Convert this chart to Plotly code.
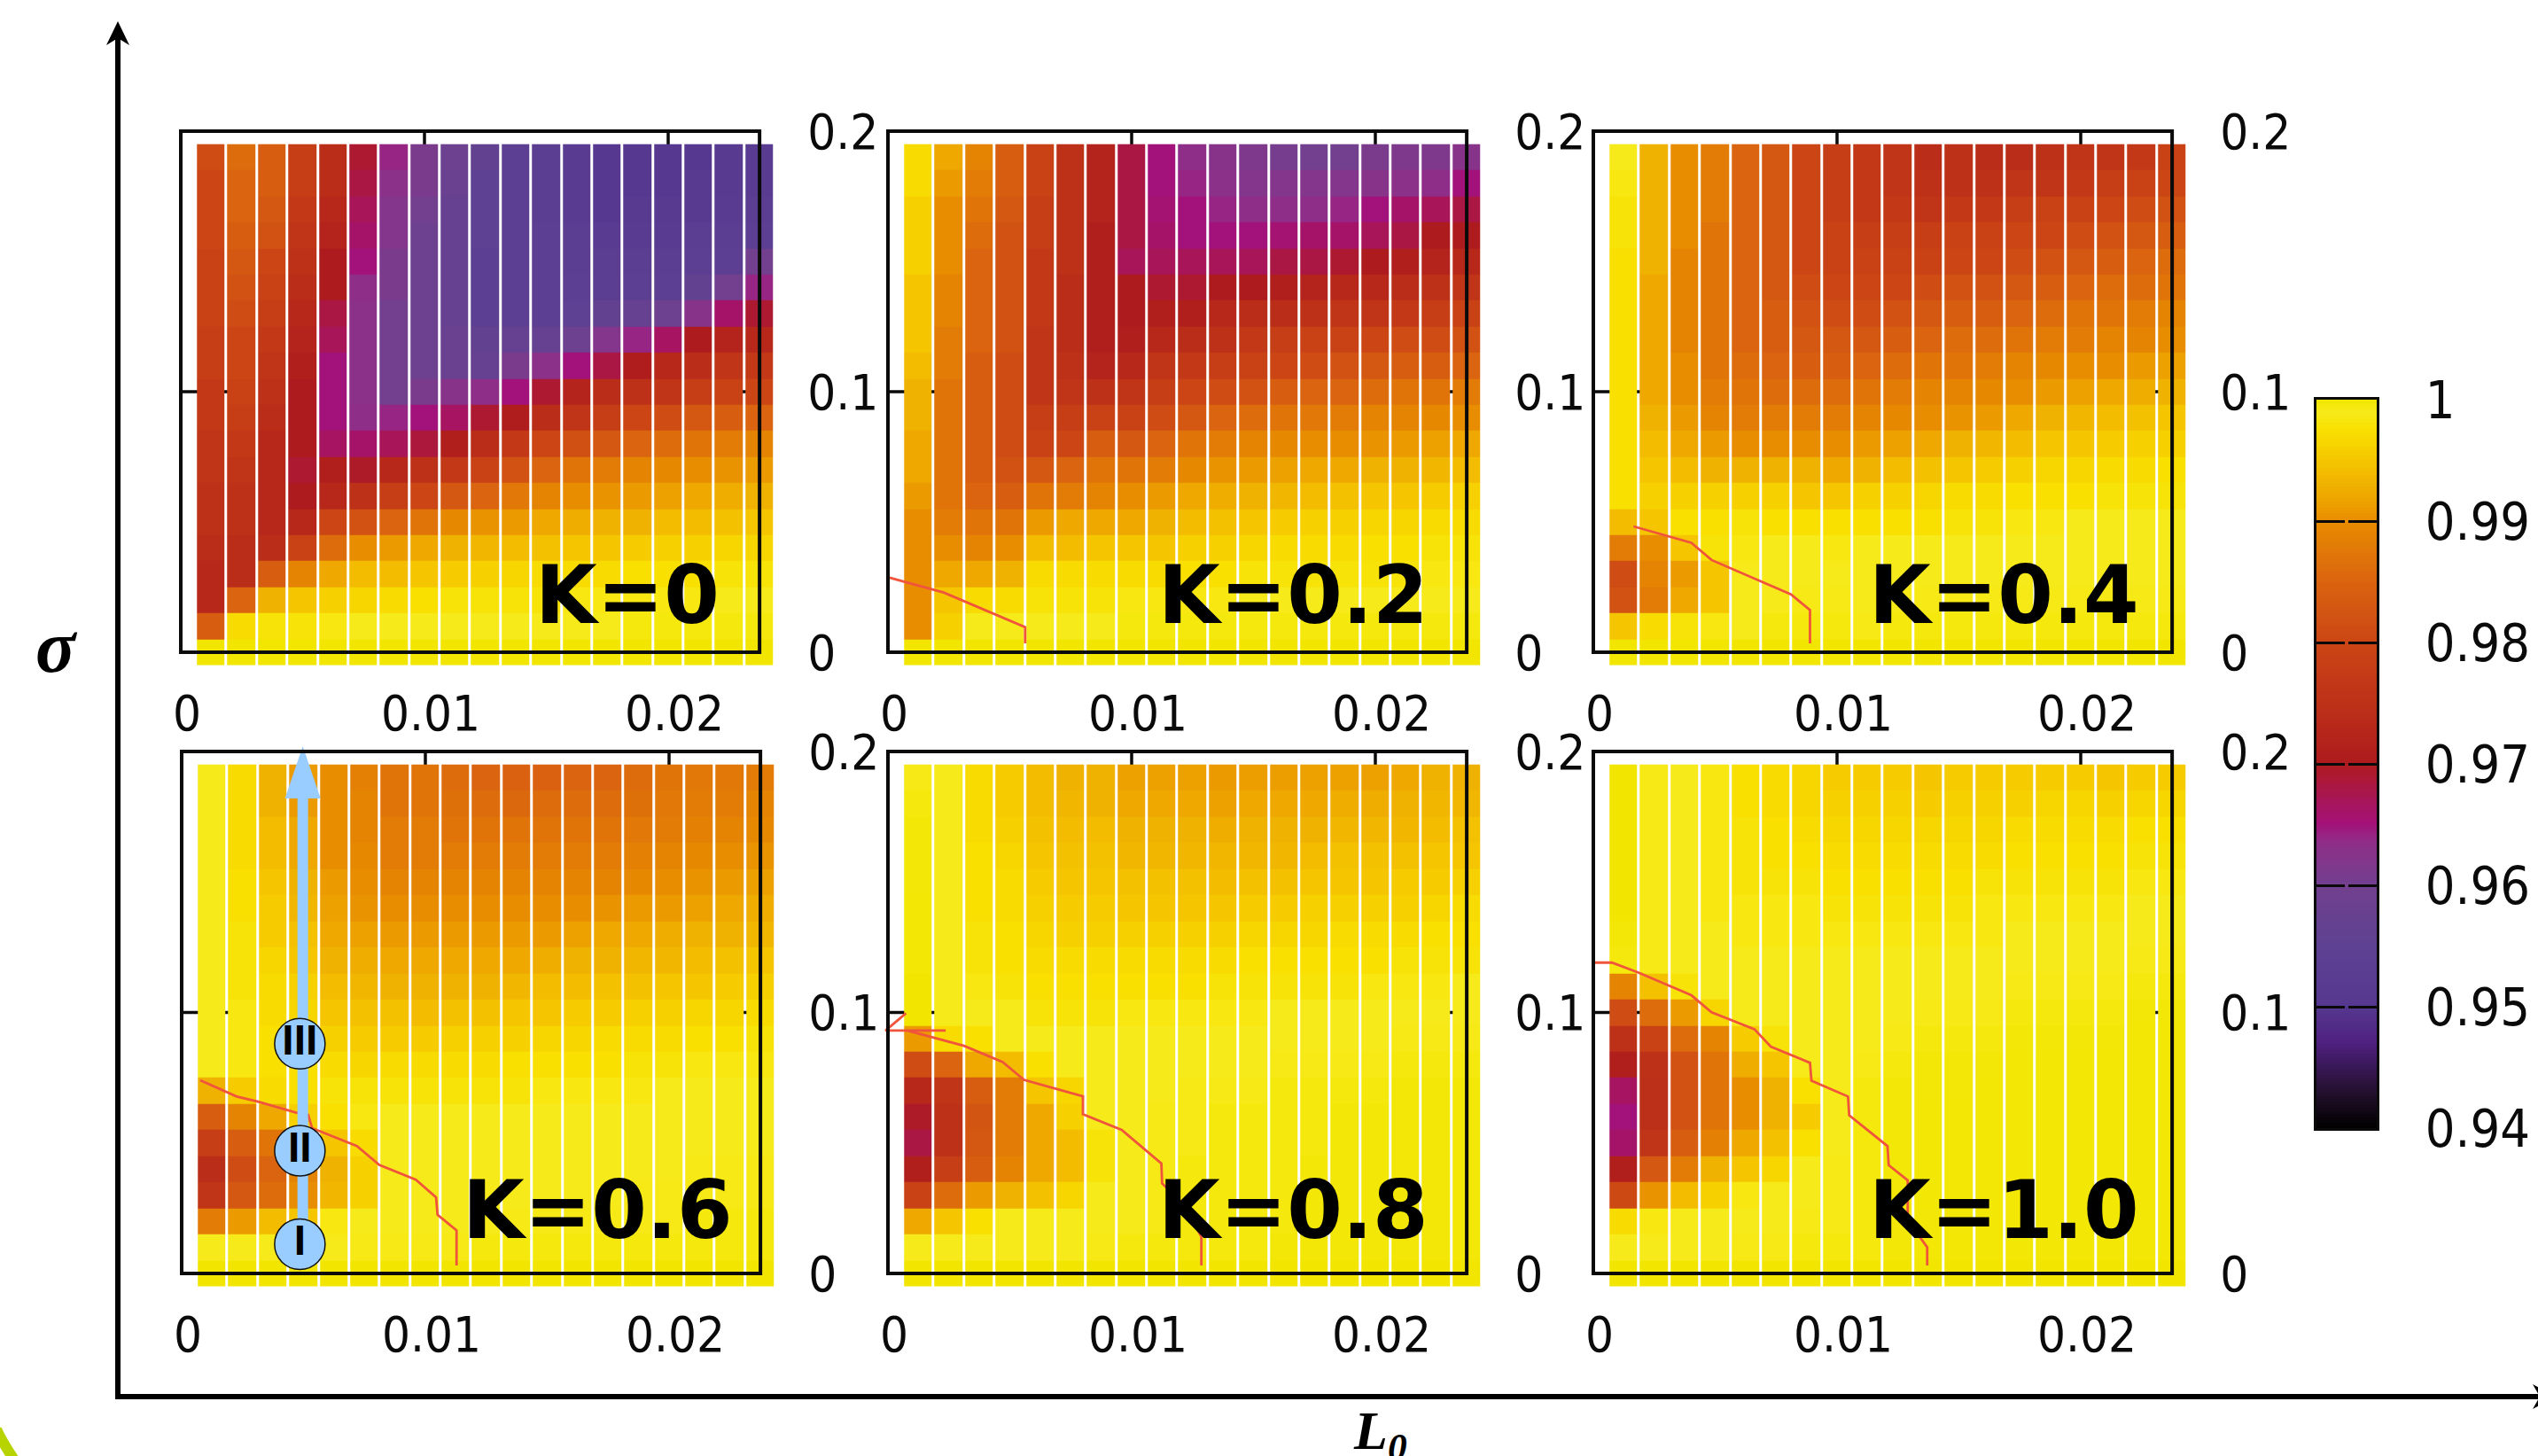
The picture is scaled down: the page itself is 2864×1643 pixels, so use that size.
import numpy as np
import plotly.graph_objects as go

W, H = 2864, 1643

# Column-by-column, top row (sigma = 0.19) first; values are (1 - Q) * 1000
K00 = [
 [19,20,20,20,21,21,21,22,22,23,23,24,24,25,25,26,27,27,16,0],
 [14,15,15,16,17,18,19,20,20,21,22,23,24,25,25,26,26,15,3,0],
 [16,16,17,18,20,21,22,23,24,25,26,27,27,27,27,26,16,7,2,0],
 [22,22,23,24,25,26,27,28,29,30,30,30,31,30,27,21,11,5,2,0],
 [26,26,27,28,30,30,32,33,35,35,35,33.5,29,27,20,14,8,4,1.5,0],
 [31,32,33,34,35,36.5,37,37,37,37,36.5,34,30.5,25,18,10,6,3.5,1,0],
 [36,37,38,38,39,39,40,40,40,40,36,33,27,22,15,9,6,3,1,0],
 [39,39,40,41,41,41,41,41,41,39,35,31.5,25,20,13,8,5,2.5,1,0],
 [41,42,43,43,43,43,43,42,42,37.5,33.5,29,23,17,10.5,7,4.5,2,1,0],
 [44,45,45,45,46,46,46,44,43,36.5,31,26,21,15,9.5,6.5,4,2,1,0],
 [46,46,46,46,46,46,46,43,39,35,29.5,23,18,12.5,9,6,3.5,2,1,0],
 [47,47,47,46,46,46,46,43,37,31,26,20,15,11,8,5.5,3,2,1,0],
 [48,48,48,47,47,46,45,41,35,28,24,18.5,13,10,7.5,5,3,1.5,1,0],
 [50,50,50,48,47,47,44,38,32,26,22,17,12,9.5,7,5,3,1.5,1,0],
 [50,50,49,48,47,46,43,36,29.5,25,20,15,11,9,7,4.5,2.5,1.5,.5,0],
 [50,50,49,48,47,46,41,33.5,27,24,19,14,10.5,8.5,6,4,2.5,1.5,.5,0],
 [50,49,49,47,46,44,37.5,30,26,22,17,13,10,8,6,4,2.5,1.5,.5,0],
 [49,49,48,47,46,40,34,28,24,21,16,12,9.5,7.5,5.5,3.5,2,1,.5,0],
 [48,48,47,46,40,36,31,27,23,20,15,11,9,7,5,3.5,2,1,.5,0],
]
K02 = [
 [3,3,4,4,4,5,5,5,6,7,7,8,8,9,10,10,10,10,10,0],
 [8,9,10,10,10,11,11,12,12,13,13,13,13,13,12,10,8,5,4,0],
 [11,12,13,14,15,15,15,15,16,16,16,16,16,15,13,11,8,3,1,0],
 [16,16,17,18,18,18,18,18,19,19,19,19,18,16,13,10,7,3,1,0],
 [21,21,22,22,23,23,23,24,24,24,22,21,17,13,9,6,3,2,1,0],
 [25,25,25,25,25,26,26,26,25,24,22,20,15,12,8,6,3,2,1,0],
 [28,28,28,29,29,29,29,29,28,25,21,16,13,11,8,5,3,2,1,0],
 [32,32,32,32,33,30,30,29,27,24,21,17,13,10,8,5,3,1.5,.5,0],
 [35,35,34.5,34,33,31,29,27,24,22,19,15,12,9,7,5,3,1.5,.5,0],
 [36.5,36,35,35,33,31,29,26,23,20,17,13,10.5,8,6,4,2.5,1.5,.5,0],
 [37.5,37,36,35,33,30,27,25,22,19,15,12,9.5,7.5,5.5,4,2.5,1.5,.5,0],
 [38.5,38,36.5,35,33,30,26,23,21,18,14,11,9,7,5,3.5,2,1,.5,0],
 [39.5,38,36.5,34.5,32,29,26,22,20,16,13,10.5,8.5,6.5,4.5,3,2,1,.5,0],
 [40,38,36.5,34,32,28,25,21,19,15,12.5,10,8,6,4,3,2,1,.5,0],
 [40,38,36,34,31,27,24,21,18,15,12,10,8,5.5,4,3,2,1,.5,0],
 [39,37.5,35,33,30,27,24,20,17,14,11,9.5,7,5,3.5,2.5,2,1,.5,0],
 [38.5,37,34,32,29,26,23,19,16,13,11,9,7,5,3.5,2.5,2,1,.5,0],
 [38.5,36.5,33,30,28,25,22,19,16,13,10.5,8.5,6.5,4.5,3,2,1.5,1,.5,0],
 [37.5,35,32,30,27,24,21,18,15,12,10,8,6,4,3,2,1.5,1,.5,0],
]
K04 = [
 [1,1.5,2,2,2.5,2.5,2.5,2.5,2.5,2.5,2.5,2.5,2.5,2.5,6,12,19,18,5,0],
 [7,7,7,7,7,8,8,8,8,8,7,6,5,4,5,10,11,12,3,0],
 [10,10,10,10,11,11,11,11,10,10,9,8,6,4,2.5,5,9,8,2,0],
 [12,12,12,13,13,13,13,13,13,12,11,9,7,4,2.5,2,5,5,1.5,0],
 [15,15,15,15,15,15,15,15,14,13,12,10,7,4,2,1.5,1,1,1,0],
 [17,17,17,17,17,17,16,16,15,14,12,10,7,4,2.5,1,1,1,.5,0],
 [20,20,20,20,20,19,18,17,16,14,12,10,7,5,2.5,1,1,.8,.5,0],
 [22,22,22,21,21,20,19,17,16,14,12,10,8,5,2.5,1.5,1,.8,.5,0],
 [23,23,23,22,21,20,19,17,15,13,11,9,7,4,2.5,1,1,1,.8,0],
 [24,24,23,22,21,20,18,16,14,12,10.5,8.5,6,4,2.5,1,1,.8,.5,0],
 [26,25,24,22,21,19,17,15,13,11,10,8,5.5,3.5,2.5,1,1,.8,.5,0],
 [25,25,23,21,20,18,16,14,13,11,9.5,7,5,3,2,1,1,.8,.5,0],
 [26,25,23,21,20,18,16,14,12,10.5,9,6.5,4.5,3,2,1,1,.8,.5,0],
 [26,24,22,20,19,17,15,13,11,10,8,6,4,2.5,1.5,1,1,.8,.5,0],
 [25,24,21,20,18,16,14,12,10.5,9,7,5,3.5,2.5,1.5,1,1,.8,.5,0],
 [24,23,21,19,17,15,13,12,10,8.5,6.5,5,3.5,2.5,1,1,1,.8,.5,0],
 [24,22,20,18,16,14,13,11,10,8,6,4.5,3,2,1,1,1,.8,.5,0],
 [23,21,19,17,15,14,12,11,9,7.5,5.5,4,3,2,1,1,1,.8,.5,0],
 [21,20,18,16,14,13,11,10,8.5,7,5,4,2.5,2,1,1,1,.8,.5,0],
]
K06 = [
 [1,1,1,1,1,1,1,1,1,1,1,1,7,16,22,26,24,12,1,0],
 [3,3,3,3,2.5,2.5,2,2,2,1.5,1.5,1.5,4.5,11,16,19,17,9,1,0],
 [7,7,6,6,5,4.5,4.5,3.5,3,3,2.5,2.5,3,8,13,15,14,6,1,0],
 [9,9,8,8,7,6.5,5.5,5,4,3.5,3,2.5,2.5,4,8,11,10,5,1,0],
 [10,10,10,10,9,8.5,8,7,6,5,4,3,2,2.5,5,7,6.5,1.5,1,0],
 [11.5,11,11,10.5,10,9.5,8.5,7.5,6.5,5.5,4.5,3.5,2,1.5,3,4,4,1,.8,0],
 [13,13,12,12,11,10,9,8,7,5.5,4.5,3,2,1,1,1,1,1,.8,0],
 [13,13,12,12,11,10,9,8,7,6,4.5,3,2,1,1,1,1,1,.8,0],
 [14,13.5,13,12,11,10,9,8,7,5.5,4,3,2,1,1,1,1,1,.8,0],
 [15,14,13,12,11,10,9,8,7,5.5,4,3,2,1,1,1,1,1,.5,0],
 [15.5,14.5,13,12,11,10,9,8,6.5,5,4,2.5,2,1,1,1,1,.8,.5,0],
 [15.5,14,13,12,11,10,9,7.5,6,5,3.5,2.5,1.5,1,1,1,1,.8,.5,0],
 [15,14,13,12,11,10,8.5,7,6,4.5,3.5,2.5,1.5,1,1,1,1,.8,.5,0],
 [15,14,13,12,11,9.5,8,7,5.5,4.5,3,2.5,1.5,1,1,1,1,.8,.5,0],
 [14,13.5,12.5,11.5,10.5,9,8,6.5,5.5,4,3,2,1.5,1,1,1,.8,.8,.5,0],
 [13,12.5,12,11,10,9,7.5,6.5,5,4,3,2,1,1,1,1,.8,.8,.5,0],
 [12.5,12,11.5,10.5,9.5,8.5,7,6,5,3.5,2.5,1.5,1,1,1,.8,.8,.5,.5,0],
 [12.5,12,11,10,9,8,7,5.5,4.5,3.5,2.5,1.5,1,1,1,.8,.8,.5,.5,0],
 [12,11,10.5,9.5,8.5,7.5,6.5,5,4,3,2,1.5,1,1,1,.8,.8,.5,.5,0],
]
K08 = [
 [.8,.5,.3,.3,.3,.2,.2,.2,0,0,9,19,27,30.5,32,29,21,8,1,0],
 [1,1,1,1,1,1,1,1,1,1,3,15,24,25,25,22,14,5,1,0],
 [3,3,3,2.5,2.5,2.5,2,2,1.5,1,2.5,8,16,17.5,17,16,9,2.5,1,0],
 [4.5,4.5,4,3.5,3,3,2.5,2.5,2,1,1,6,12,12,12,11,7,1,1,0],
 [6,6,5.5,5,4.5,4,3.5,3,2.5,2,1,2.5,5,8,8,8,5.5,1,1,0],
 [7,6.5,6,5.5,5,4.5,4,3,2.5,2,1,1,3.5,4,6,6,3.5,1,1,0],
 [7,7,6,5.5,5,4.5,4,3,2.5,2,1,1,1,1,2,2,1,1,.8,0],
 [8.5,8,7,6.5,5.5,5,4,3,2.5,1.5,1,1,1,1,1,1,1,1,.5,0],
 [8.5,8,7,6.5,5.5,5,4,3,2.5,1.5,1,1,1,.8,.8,.8,.8,.8,.5,0],
 [8.5,8,7,6.5,5.5,5,4,3,2.5,1.5,1,1,.8,.8,.8,.5,.5,.5,.5,0],
 [9,8.5,7.5,6.5,6,5,4,3,2,1.5,1,1,.8,.5,.5,.5,.5,.5,.5,0],
 [8.8,8,7,6.5,5.5,4.5,3.5,2.5,2,1.5,1,1,.8,.5,.5,.5,.5,.5,.5,0],
 [8.8,8,7,6.5,5.5,4.5,3.5,2.5,2,1,1,.8,.5,.5,.5,.5,.5,.5,.3,0],
 [8.5,8,7,6,5,4,3.5,2.5,2,1,1,.8,.5,.5,.5,.3,.3,.3,.3,0],
 [8.5,7.5,6.5,5.5,5,4,3,2.5,2,1,1,.8,.5,.3,.3,.3,.3,.3,.3,0],
 [8.5,7.5,6.5,5.5,5,4,3,2.5,1.5,1,1,.8,.5,.3,.3,.3,.3,.3,.3,0],
 [8,7,6.5,5.5,4.5,4,3,2,1.5,1,.8,.5,.3,.3,.3,.3,.3,.3,.3,0],
 [7,6.5,6,5,4.5,3.5,2.5,2,1.5,1,.8,.5,.3,.3,.3,.3,.3,.3,.3,0],
 [7,6.5,5.5,5,4,3,2.5,2,1,1,.8,.5,.3,.3,.3,.3,.3,.3,.3,0],
]
K10 = [
 [0,0,0,0,0,0,.3,.5,11,19,25,29,33.5,35,34,29,19.5,3,1,0],
 [.8,.8,.8,.8,.8,.8,.8,.8,5.5,14,21,25,25.5,25.5,24,17,9.5,1.5,1,0],
 [1,1,1,1,1,1,1,1,2,9,14,18,18,18,16,12,6,1,1,0],
 [1.5,1.5,1.5,1.5,1.5,1.5,1,1,1,3.5,11,13,13,13,11.5,7,4,1,1,0],
 [2.5,2.5,2,2,2,1.5,1.5,1,1,1,4.5,7.5,10,10,8,5,1.5,1,.8,0],
 [3,3,2.5,2.5,2,1.5,1.5,1,1,1,2,5,7,7,5.5,3.5,1,1,.8,0],
 [3.5,3.5,3,2.5,2,1.5,1.5,1,1,1,1,1,2.5,4.5,2.5,1,1,.8,.5,0],
 [4.5,4,3.5,3,2.5,2,1.5,1,1,1,1,1,1,1,1,.8,.8,.8,.5,0],
 [4.5,4,3.5,3,2.5,2,1.5,1,1,1,1,.8,.5,.5,.5,.5,.5,.5,.5,0],
 [4.5,4,3.5,3,2.5,2,1.5,1,1,1,.8,.5,.3,.3,.3,.3,.3,.3,.3,0],
 [5,4.5,3.5,3,2.5,2,1.5,1,1,.8,.5,.3,.3,.2,.2,.2,.2,.3,.2,0],
 [4.5,4,3.5,3,2.5,2,1.5,1,1,.8,.5,.3,.3,.2,.2,.2,.2,.3,.2,0],
 [4.5,4,3.5,3,2,1.5,1.5,1,1,.8,.5,.3,.2,.2,.2,.2,.2,.2,.2,0],
 [4.5,4,3,2.5,2,1.5,1,1,.8,.5,.3,.2,.2,.2,.2,.2,.2,.2,.2,0],
 [4.5,3.5,3,2.5,2,1.5,1,1,.8,.5,.3,.2,.2,.2,.2,.2,.2,.2,.2,0],
 [4.5,3.5,3,2.5,2,1.5,1,1,.8,.5,.3,.2,.2,.2,.2,.2,.2,.2,.2,0],
 [5,4,3,2.5,2,1.5,1,1,.8,.5,.3,.2,.2,.2,.2,.2,.2,.2,.2,0],
 [4.5,3.5,2.5,2,1.5,1,1,.8,.5,.3,.2,.2,.2,.2,.2,.2,.2,.2,.2,0],
 [4.5,3.5,2.5,2,1.5,1,1,.8,.5,.3,.2,.2,.2,.2,.2,.2,.2,.2,.2,0],
]

L0 = [.00125,.0025,.00375,.005,.00625,.0075,.00875,.01,.01125,.0125,.01375,.015,
      .01625,.0175,.01875,.02,.02125,.0225,.02375]
SIGMA = [.19,.18,.17,.16,.15,.14,.13,.12,.11,.10,.09,.08,.07,.06,.05,.04,.03,.02,.01,0]

# red boundary lines
LINE02_X = [0,.00229,.00563,.00563]
LINE02_Y = [.0288,.0229,.00966,.0034]
LINE04_X = [.00165,.00402,.00485,.00677,.00811,.00889,.00889]
LINE04_Y = [.0483,.042,.0354,.0277,.0222,.0162,.0034]
LINE06_X = [.00076,.00226,.0031,.00468,.00519,.00535,.00719,.00811,.00961,.01044,.0105,.01128,.01128]
LINE06_Y = [.074,.0678,.0659,.0617,.0608,.0557,.0488,.0416,.0359,.0291,.0225,.0165,.0031]
LINE08_X = [.00074,-.0001,.00237,.00079,.00312,.00471,.00558,.008,.008,.00959,.01122,.01125,.01205,.01286,.01286]
LINE08_Y = [.0997,.0931,.0931,.0931,.0872,.081,.0742,.0679,.061,.055,.0421,.0345,.0273,.0142,.0031]
LINE10_X = [0,.00076,.00185,.00402,.00485,.00661,.00728,.00889,.00895,.01045,.0105,.01207,.01212,.0129,.0129,.0137,.0137]
LINE10_Y = [.1191,.1191,.1153,.1066,.1001,.0936,.0869,.0807,.0738,.0678,.0606,.0488,.0415,.0357,.0204,.01,.0031]

# markers in the K=0.6 panel
STAGE_X = [.00485,.00485,.00485]
STAGE_Y = [.0112,.047,.088]
STAGE_TEXT = ["I","II","III"]

# colour map: value on the colour axis -> colour
CMAP_VAL = [.94,.943,.947,.95,.955,.96,.9635,.965,.967,.97,.975,.98,.985,.99,.992,.995,.9975,.999,1]
CMAP_COL = ["#000000","#24102f","#4f2080","#563890","#5e4192","#72408f","#8f2e88","#a3127a","#a81558",
            "#ae1b1e","#bd3118","#cc4615","#da640f","#e88c00","#eea800","#f5c600","#f9e000","#f7ea1a","#f2e600"]
CBAR_TICKS = [.94,.95,.96,.97,.98,.99,1]
CBAR_TEXT = ["0.94","0.95","0.96","0.97","0.98","0.99","1"]

X_TICKS = [0,.01,.02]; X_TEXT = ["0","0.01","0.02"]
Y_TICKS = [0,.1,.2];   Y_TEXT = ["0","0.1","0.2"]

BLACK = "#0a0a0a"
FONT = dict(family="DejaVu Sans Condensed, DejaVu Sans", size=56, color=BLACK)
CB_FONT = dict(family="DejaVu Sans Condensed, DejaVu Sans", size=59, color=BLACK)

# name, data, line, left frame px, top frame px, bottom frame px, K-label right px, K-label centre px
PANELS = [
 ("K=0",   K00, None, 204, 148, 736, 814, 672),
 ("K=0.2", K02, (LINE02_X,LINE02_Y), 1002, 148, 736, 1614, 672),
 ("K=0.4", K04, (LINE04_X,LINE04_Y), 1798, 148, 736, 2416, 672),
 ("K=0.6", K06, (LINE06_X,LINE06_Y), 205, 848, 1437, 829, 1365),
 ("K=0.8", K08, (LINE08_X,LINE08_Y), 1002, 848, 1437, 1614, 1365),
 ("K=1.0", K10, (LINE10_X,LINE10_Y), 1798, 848, 1437, 2416, 1365),
]

PX = 27500.0
XR = [-.0005, .024375]
YR = [-.005, .205]
colorscale = [[round((v-.94)/.06, 6), c] for v, c in zip(CMAP_VAL, CMAP_COL)]

fig = go.Figure()
layout = {}
shapes = []
annotations = []
for i, (name, data, line, left, top, bottom, kx, ky) in enumerate(PANELS, start=1):
    sfx = "" if i == 1 else str(i)
    ypx = (bottom-top)/.2
    z = 1-np.array(data).T/1000.0
    fig.add_trace(go.Heatmap(x=L0, y=SIGMA, z=z, coloraxis="coloraxis", xgap=3, ygap=0,
                             xaxis="x"+sfx, yaxis="y"+sfx, name=name, hoverinfo="skip"))
    if line:
        fig.add_trace(go.Scatter(x=line[0], y=line[1], mode="lines", xaxis="x"+sfx, yaxis="y"+sfx,
                                 line=dict(color="#f0553c", width=2.8), cliponaxis=False, showlegend=False))
    layout["xaxis"+sfx] = dict(
        domain=[(left+XR[0]*PX)/W, (left+XR[1]*PX)/W], range=XR, anchor="y"+sfx, automargin=False,
        tickmode="array", tickvals=X_TICKS, ticktext=X_TEXT, ticks="", showgrid=False, zeroline=False,
        tickfont=FONT, ticklabelstandoff=16, ticklabelshift=7, showline=False)
    layout["yaxis"+sfx] = dict(
        domain=[1-(bottom-YR[0]*ypx)/H, 1-(top-(YR[1]-.2)*ypx)/H], range=YR, anchor="x"+sfx, side="right",
        automargin=False,
        tickmode="array", tickvals=Y_TICKS, ticktext=Y_TEXT, ticks="", showgrid=False, zeroline=False,
        tickfont=FONT, ticklabelstandoff=36, showline=False)
    xr, yr = "x"+sfx, "y"+sfx
    for t in (.01, .02):
        shapes.append(dict(type="line", xref=xr, yref=yr, x0=t, x1=t, y0=.2, y1=.19, layer="below",
                           line=dict(color=BLACK, width=3.5)))
    shapes.append(dict(type="line", xref=xr, yref=yr, x0=0, x1=.002, y0=.1, y1=.1, layer="below",
                       line=dict(color=BLACK, width=3.5)))
    shapes.append(dict(type="line", xref=xr, yref=yr, x0=.02275, x1=.02375, y0=.1, y1=.1, layer="below",
                       line=dict(color=BLACK, width=3.5)))
    shapes.append(dict(type="rect", xref=xr, yref=yr, x0=0, x1=.02375, y0=0, y1=.2, layer="above",
                       line=dict(color=BLACK, width=4)))
    annotations.append(dict(text="<b>%s</b>" % name, xref="paper", yref="paper", x=kx/W, y=1-ky/H,
                            xanchor="right", yanchor="middle", showarrow=False, xshift=0,
                            font=dict(family="DejaVu Sans", size=90, color="#000000")))

# arrow and stage markers in the K=0.6 panel
fig.add_trace(go.Scatter(x=[.00497,.00497], y=[.0112,.183], mode="lines", xaxis="x4", yaxis="y4",
                         line=dict(color="#99ccff", width=12), showlegend=False))
fig.add_trace(go.Scatter(x=[.00424,.0057,.00497,.00424], y=[.182,.182,.202,.182], mode="lines", fill="toself",
                         fillcolor="#99ccff", line=dict(color="#99ccff", width=0), xaxis="x4", yaxis="y4", showlegend=False))
fig.add_trace(go.Scatter(x=STAGE_X, y=STAGE_Y, mode="markers+text", text=STAGE_TEXT, textposition="middle center",
                         textfont=dict(family="Liberation Sans", size=48, color="#000000", weight="bold"),
                         marker=dict(size=57, color="#99ccff", line=dict(color="#111111", width=1.5)),
                         xaxis="x4", yaxis="y4", showlegend=False))

# colour bar as its own small axis pair
CB_LEVELS = np.linspace(.94, 1, 241)
fig.add_trace(go.Heatmap(x=[0], y=CB_LEVELS, z=CB_LEVELS.reshape(-1,1), coloraxis="coloraxis",
                         xaxis="x7", yaxis="y7", hoverinfo="skip"))
layout["xaxis7"] = dict(domain=[2614/W, 2682/W], anchor="y7", showticklabels=False, ticks="", showgrid=False,
                        automargin=False,
                        zeroline=False, showline=True, mirror=True, linecolor=BLACK, linewidth=3, range=[-.5,.5])
layout["yaxis7"] = dict(domain=[1-1273/H, 1-451/H], anchor="x7", side="right", range=[.94,1], automargin=False,
                        tickmode="array", tickvals=CBAR_TICKS, ticktext=CBAR_TEXT, ticks="inside", ticklen=32,
                        tickwidth=3, tickcolor=BLACK, mirror="ticks", showline=True, linecolor=BLACK, linewidth=3,
                        showgrid=False, zeroline=False, tickfont=CB_FONT, ticklabelstandoff=40)

# big axes and decorations
AX = dict(color="#000000", width=6)
shapes += [
    dict(type="line", xref="paper", yref="paper", x0=133/W, x1=133/W, y0=1-1579/H, y1=1-40/H, line=AX),
    dict(type="line", xref="paper", yref="paper", x0=130/W, x1=1, y0=1-1576/H, y1=1-1576/H, line=AX),
    dict(type="path", xref="paper", yref="paper", fillcolor="#000000", line=dict(width=0),
         path="M %f %f L %f %f L %f %f L %f %f Z" % (133/W,1-24/H, 146/W,1-51/H, 133/W,1-43/H, 120/W,1-51/H)),
    dict(type="path", xref="paper", yref="paper", fillcolor="#000000", line=dict(width=0),
         path="M %f %f L %f %f L %f %f L %f %f Z" % (2884/W,1-1576/H, 2858/W,1-1562/H, 2866/W,1-1576/H, 2858/W,1-1590/H)),
    dict(type="path", xref="paper", yref="paper", line=dict(color="#b8d400", width=12),
         path="M %f %f Q %f %f %f %f" % (-4/W,1-1613/H, 4/W,1-1630/H, 18/W,1-1650/H)),
]
annotations += [
    dict(text="<b><i>σ</i></b>", xref="paper", yref="paper", x=64/W, y=1-729/H, xanchor="center", yanchor="middle",
         showarrow=False, font=dict(family="Liberation Serif", size=84, color="#000000")),
    dict(text="<b><i>L<sub>0</sub></i></b>", xref="paper", yref="paper", x=1558/W, y=1-1618/H, xanchor="center",
         yanchor="middle", showarrow=False, font=dict(family="Liberation Serif", size=62, color="#000000")),
]

fig.update_layout(
    width=W, height=H, margin=dict(l=0, r=0, t=0, b=0, pad=0), paper_bgcolor="white", plot_bgcolor="white",
    showlegend=False, shapes=shapes, annotations=annotations,
    coloraxis=dict(cmin=.94, cmax=1, colorscale=colorscale, showscale=False),
    **layout)
fig.write_html("out.html", config={"displayModeBar": False},
               post_script="document.body.style.margin='0';document.body.style.overflow='hidden';")
